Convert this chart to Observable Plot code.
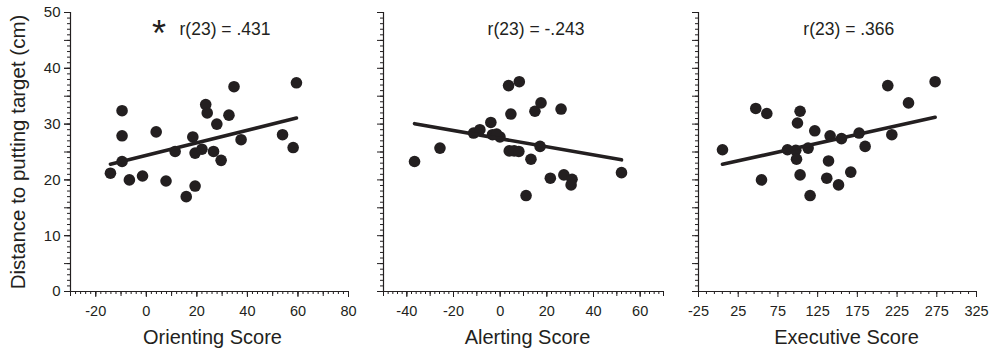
<!DOCTYPE html>
<html><head><meta charset="utf-8">
<script src="https://cdn.jsdelivr.net/npm/d3@7"></script>
<script src="https://cdn.jsdelivr.net/npm/@observablehq/plot@0.6"></script>
<style>
body{margin:0;background:#fff}
#chart{position:relative;width:994px;height:349px;font-family:"Liberation Sans",Arial,sans-serif}
#chart > div{position:absolute;top:0}
</style></head><body><div id="chart"></div>
<script>
// ---- data ----
const yLabel = "Distance to putting target (cm)";

const orientingX = [-14.2,-9.6,-9.6,-9.6,-6.7,-1.5,3.9,7.8,11.4,15.8,18.4,19.3,19.3,22.0,23.5,24.1,26.6,27.9,29.6,32.7,34.7,37.5,53.9,58.1,59.4];
const orientingY = [21.2,32.4,27.9,23.3,20.0,20.7,28.6,19.8,25.1,17.0,27.7,18.9,24.8,25.5,33.5,32.0,25.1,30.0,23.5,31.6,36.7,27.2,28.1,25.8,37.4];

const alertingX = [-36.7,-25.8,-11.4,-8.7,-4.0,-3.3,-0.1,3.6,8.2,4.6,3.9,6.0,8.0,13.2,11.1,14.9,17.5,17.1,21.5,26.1,27.3,30.8,30.4,52.0,-1.5];
const alertingY = [23.3,25.7,28.4,29.0,30.3,28.1,27.7,36.9,37.6,31.8,25.2,25.2,25.1,23.7,17.2,32.3,33.8,26.0,20.3,32.7,20.9,20.1,19.1,21.3,28.2];

const executiveX = [5.2,47.1,61.0,54.3,87.0,97.5,98.4,102.9,99.6,102.9,113.0,121.4,115.5,138.7,140.7,136.5,155.0,151.3,166.7,177.2,184.8,218.4,213.3,239.4,272.9];
const executiveY = [25.4,32.8,31.9,20.0,25.4,25.3,23.7,32.3,30.2,20.9,25.7,28.8,17.2,23.4,27.9,20.3,27.4,19.1,21.4,28.4,26.0,28.1,36.9,33.8,37.6];

const xTitles = ["Orienting Score", "Alerting Score", "Executive Score"];
const stats = ["r(23) = .431", "r(23) = -.243", "r(23) = .366"];
const significance = ["*", "", ""];

const xDomains = [[-30, 80], [-50, 70], [-25, 325]];
const xLabelTicks = [d3.range(-20, 81, 20), d3.range(-40, 61, 20), d3.range(-25, 326, 50)];
const xMidTicks = [d3.range(-30, 81, 10), d3.range(-50, 71, 10), []];
const xMinorTicks = [d3.range(-30, 81, 2), d3.range(-50, 71, 2), d3.range(-25, 326, 10)];
const yLabelTicks = d3.range(0, 51, 10);
const yMidTicks = d3.range(0, 51, 5);
const yMinorTicks = d3.range(0, 51, 1);

const ink = "#231f20";
const panels = [
  {xs: orientingX, ys: orientingY, left: 0, width: 360, ml: 70, mr: 12, showY: true, titleDx: 3, statDx: 15.5},
  {xs: alertingX, ys: alertingY, left: 360, width: 314, ml: 23, mr: 11, showY: false, titleDx: 4, statDx: 12.5},
  {xs: executiveX, ys: executiveY, left: 674, width: 320, ml: 24, mr: 18, showY: false, titleDx: 9, statDx: 11.3}
];

const hyphenFormat = d => (d < 0 ? "-" + Math.abs(d) : String(d));

const chart = document.getElementById("chart");
panels.forEach((p, i) => {
  const data = p.xs.map((x, j) => ({x, y: p.ys[j]}));
  const blank = () => "";
  const marks = [
    Plot.axisY({ticks: yMinorTicks, tickSize: 3, tickFormat: blank, label: null, stroke: ink}),
    Plot.axisY({ticks: yMidTicks, tickSize: 6, tickFormat: blank, label: null, stroke: ink}),
    Plot.axisX({ticks: xMinorTicks[i], tickSize: 3, tickFormat: blank, label: null, stroke: ink}),
    Plot.axisX({ticks: xMidTicks[i], tickSize: 5, tickFormat: blank, label: null, stroke: ink}),
    Plot.axisX({ticks: xLabelTicks[i], tickSize: 6, tickPadding: 8, tickFormat: hyphenFormat, label: null, stroke: ink, fill: ink, fontSize: 14.5}),
    Plot.ruleY([0], {stroke: ink, strokeWidth: 1.2}),
    Plot.ruleX([xDomains[i][0]], {stroke: ink, strokeWidth: 1.2}),
    Plot.dot(data, {x: "x", y: "y", r: 5.8, fill: ink, stroke: null}),
    Plot.linearRegressionY(data, {x: "x", y: "y", ci: 0, stroke: ink, strokeWidth: 3.6}),
    Plot.text([xTitles[i]], {frameAnchor: "bottom", dx: p.titleDx, dy: 46, lineAnchor: "middle", textAnchor: "middle", fontSize: 20, fill: ink}),
    Plot.text([stats[i]], {frameAnchor: "top", dx: p.statDx, dy: 16.8, lineAnchor: "middle", textAnchor: "middle", fontSize: 17.5, fill: ink})
  ];
  if (significance[i]) {
    marks.push(Plot.text([significance[i]], {frameAnchor: "top", dx: -50.5, dy: 33, lineAnchor: "bottom", textAnchor: "middle", fontSize: 36, fill: ink}));
  }
  if (p.showY) {
    marks.push(Plot.axisY({ticks: yLabelTicks, tickSize: 6, tickPadding: 4, label: null, stroke: ink, fill: ink, fontSize: 15}));
    marks.push(Plot.text([yLabel], {frameAnchor: "left", dx: -52, rotate: -90, textAnchor: "middle", fontSize: 20.5, fill: ink, lineAnchor: "middle"}));
  }
  const svg = Plot.plot({
    width: p.width, height: 349,
    marginLeft: p.ml, marginRight: p.mr, marginTop: 12, marginBottom: 58,
    x: {domain: xDomains[i]},
    y: {domain: [0, 50]},
    style: {fontFamily: '"Liberation Sans", Arial, sans-serif', background: "transparent", color: ink},
    marks
  });
  const wrap = document.createElement("div");
  wrap.style.left = p.left + "px";
  wrap.appendChild(svg);
  chart.appendChild(wrap);
});
</script></body></html>
